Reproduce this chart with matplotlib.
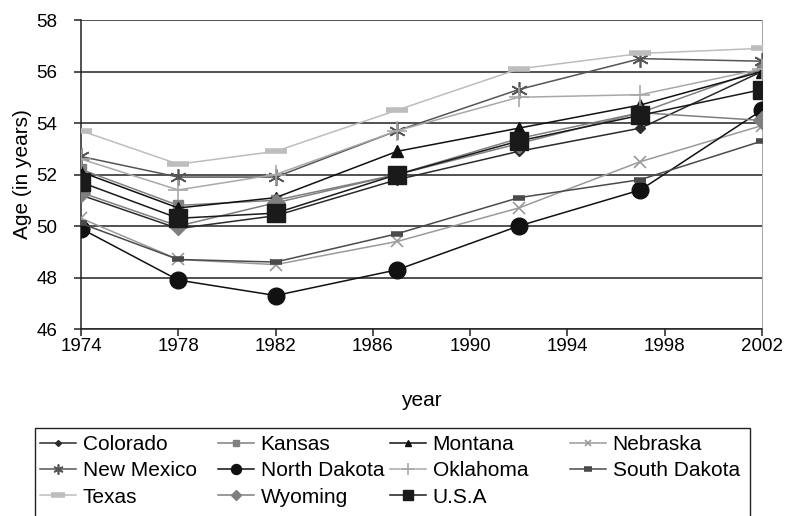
import matplotlib
matplotlib.use("Agg")
import matplotlib.pyplot as plt
from matplotlib.patches import Rectangle

years = [1974, 1978, 1982, 1987, 1992, 1997, 2002]

colorado = [51.2, 49.9, 50.4, 51.8, 52.9, 53.8, 56.0]
kansas = [52.2, 50.8, 51.0, 52.0, 53.4, 54.4, 56.1]
montana = [52.1, 50.7, 51.1, 52.9, 53.8, 54.7, 56.0]
nebraska = [50.3, 48.7, 48.5, 49.4, 50.7, 52.5, 53.9]
new_mexico = [52.7, 51.9, 51.9, 53.7, 55.3, 56.5, 56.4]
north_dakota = [49.9, 47.9, 47.3, 48.3, 50.0, 51.4, 54.5]
oklahoma = [52.6, 51.4, 52.0, 53.7, 55.0, 55.1, 56.1]
south_dakota = [50.1, 48.7, 48.6, 49.7, 51.1, 51.8, 53.3]
texas = [53.7, 52.4, 52.9, 54.5, 56.1, 56.7, 56.9]
wyoming = [51.3, 50.0, 50.9, 52.0, 53.2, 54.4, 54.1]
usa = [51.7, 50.3, 50.5, 52.0, 53.3, 54.3, 55.3]

plt.rcParams["font.family"] = ["Liberation Sans", "DejaVu Sans"]

W, H = 787, 516
fig = plt.figure(figsize=(W / 100, H / 100), dpi=100)
ax = fig.add_axes([81 / W, 1 - 329 / H, 681 / W, 309 / H])

series = [
    ("Colorado", colorado, dict(color="#2b2b2b", marker="D", ms=5)),
    ("Kansas", kansas, dict(color="#808080", marker="s", ms=7)),
    ("Montana", montana, dict(color="#111111", marker="^", ms=8)),
    ("Nebraska", nebraska, dict(color="#9a9a9a", marker="x", ms=8, mew=1.2)),
    ("New Mexico", new_mexico, dict(color="#555555", marker=(6, 2, 0), ms=12, mew=1.2)),
    ("North Dakota", north_dakota, dict(color="#111111", marker="o", ms=12)),
    ("Oklahoma", oklahoma, dict(color="#a8a8a8", marker="+", ms=14, mew=1.2)),
    ("South Dakota", south_dakota, dict(color="#4a4a4a", marker="_", ms=9, mew=4)),
    ("Texas", texas, dict(color="#bdbdbd", marker="_", ms=16, mew=4)),
    ("Wyoming", wyoming, dict(color="#7f7f7f", marker="D", ms=9)),
    ("U.S.A", usa, dict(color="#1a1a1a", marker="s", ms=13)),
]

handles = []
for name, vals, style in series:
    h, = ax.plot(years, vals, label=name, lw=1.1, zorder=3, **style)
    handles.append(h)

ax.set_xlim(1974, 2002)
ax.set_ylim(46, 58)
ax.set_xticks(range(1974, 2003, 4))
ax.set_yticks(range(46, 59, 2))
ax.yaxis.grid(True, color="#222222", lw=1.1)
ax.set_axisbelow(True)

ax.spines["top"].set_visible(False)
ax.spines["right"].set_color("#aaaaaa")
for side in ["left", "bottom"]:
    ax.spines[side].set_color("#222222")
    ax.spines[side].set_linewidth(1.1)
ax.tick_params(direction="out", length=5, width=1.1, labelsize=13.5, color="#222222")
ax.tick_params(axis="x", pad=1.5)
ax.tick_params(axis="y", pad=12)

ax.set_xlabel("year", fontsize=15, labelpad=26)
ax.set_ylabel("Age (in years)", fontsize=15, labelpad=3)

# legend: 4 equal-width columns, filled row by row, inside one box
col_x = [40, 218, 390, 570]
rows = 3
for c, x0 in enumerate(col_x):
    idx = [c + 4 * r for r in range(rows) if c + 4 * r < len(handles)]
    fig.legend(
        [handles[i] for i in idx],
        [handles[i].get_label() for i in idx],
        loc="upper left",
        bbox_to_anchor=(x0 / W, 1 - 435 / H),
        frameon=False,
        fontsize=15,
        handlelength=1.75,
        handletextpad=0.3,
        labelspacing=0.35,
        borderpad=0,
        borderaxespad=0,
        markerscale=0.6,
    )

fig.add_artist(Rectangle((35 / W, -0.02), 715 / W, 1 - 428 / H + 0.02,
                         transform=fig.transFigure, fill=False,
                         edgecolor="#222222", lw=1.0))

fig.savefig("out.png", dpi=100)
